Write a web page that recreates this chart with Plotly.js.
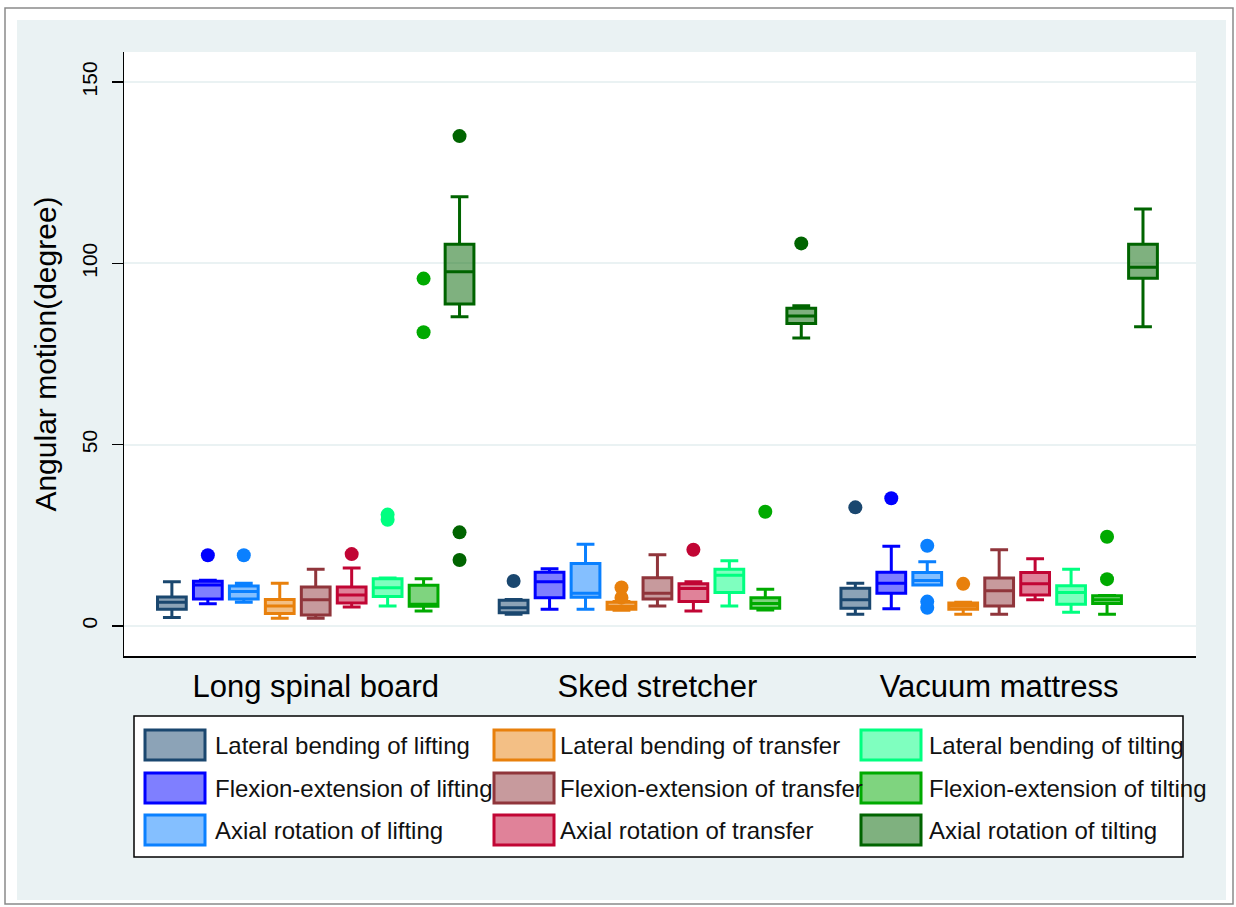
<!DOCTYPE html>
<html><head><meta charset="utf-8">
<script src="https://cdn.plot.ly/plotly-3.0.1.min.js"></script>
<style>html,body{margin:0;padding:0;background:#fff}</style>
</head><body><div id="chart" style="width:1236px;height:907px"></div>
<script>
var categories = ["Long spinal board", "Sked stretcher", "Vacuum mattress"];
var seriesNames = [
  "Lateral bending of lifting", "Flexion-extension of lifting", "Axial rotation of lifting",
  "Lateral bending of transfer", "Flexion-extension of transfer", "Axial rotation of transfer",
  "Lateral bending of tilting", "Flexion-extension of tilting", "Axial rotation of tilting"
];
var lineColors = ["#1a476f", "#0000ff", "#0a80ff", "#e8800c", "#90353b", "#c10534", "#00ff80", "#00aa00", "#006400"];
var fillColors = ["rgba(26,71,111,0.5)", "rgba(0,0,255,0.5)", "rgba(10,128,255,0.5)", "rgba(232,128,12,0.5)",
  "rgba(144,53,59,0.5)", "rgba(193,5,52,0.5)", "rgba(0,255,128,0.5)", "rgba(0,170,0,0.5)", "rgba(0,100,0,0.5)"];

// per series: [Long spinal board, Sked stretcher, Vacuum mattress]
var lowerFence = [[2.3,3.2,3.2],[6.1,4.6,4.7],[6.5,4.6,11.3],[2.1,4.3,3.2],[2.1,5.5,3.2],[5.2,4.1,7.2],[5.5,5.5,3.8],[4.1,4.4,3.2],[85.3,79.4,82.5]];
var q1Values   = [[4.6,3.6,4.9],[7.4,7.8,9.0],[7.4,7.9,11.3],[3.4,4.6,4.6],[3.0,7.4,5.5],[6.3,6.7,8.5],[8.1,9.2,6.0],[5.4,4.9,6.2],[88.8,83.4,95.9]];
var medians    = [[6.5,5.0,7.2],[11.3,12.2,11.8],[9.5,9.0,12.5],[5.5,5.4,5.5],[7.2,9.0,9.7],[8.5,10.3,11.6],[10.5,14.0,9.2],[6.0,6.2,7.2],[97.7,85.5,98.9]];
var q3Values   = [[8.0,7.1,10.4],[12.3,14.8,14.8],[11.0,17.2,14.7],[7.3,6.5,6.3],[10.7,13.3,13.2],[10.7,11.6,14.7],[13.0,15.6,11.1],[11.2,7.8,8.3],[105.3,87.6,105.3]];
var upperFence = [[12.2,7.3,11.8],[12.6,15.8,22.0],[11.8,22.5,17.7],[11.8,6.7,6.5],[15.6,19.6,21.0],[16.0,12.2,18.5],[13.2,18.0,15.6],[13.0,10.1,8.4],[118.4,88.3,115.0]];
var outliers = [
  [[], [12.4], [32.7]],
  [[19.5], [], [35.2]],
  [[19.5], [], [22.1, 6.7, 5.0]],
  [[], [7.8, 10.6], [11.6]],
  [[], [], []],
  [[19.8], [21.0], []],
  [[29.3, 30.7], [], []],
  [[81.0, 95.8], [31.5], [12.9, 24.6]],
  [[135.1, 25.8, 18.2], [105.5], []]
];
var yTickValues = [0, 50, 100, 150];

var traces = seriesNames.map(function (name, i) {
  // empty rows become [null] so plotly keeps the per-box 2D sample signature
  var pts = outliers[i].map(function (row) { return row.length ? row : [null]; });
  return {
    type: "box", name: name, x: categories,
    q1: q1Values[i], median: medians[i], q3: q3Values[i],
    lowerfence: lowerFence[i], upperfence: upperFence[i],
    y: pts, boxpoints: "outliers", pointpos: 0, jitter: 0,
    line: {color: lineColors[i], width: 3}, fillcolor: fillColors[i],
    marker: {color: lineColors[i], size: 14, line: {width: 0}},
    whiskerwidth: 0.62, showlegend: false, hoverinfo: "skip"
  };
});

// layout geometry (pixels)
var W = 1236, H = 907, L = 124, R = 1196, T = 52, B = 656;
function px(x) { return (x - L) / (R - L); }
function py(y) { return (B - y) / (B - T); }

var shapes = [
  {type: "rect", xref: "paper", yref: "paper", x0: px(5), x1: px(1233), y0: py(904), y1: py(8),
   line: {color: "#8a8a8a", width: 1.5}, fillcolor: "#ffffff", layer: "below"},
  {type: "rect", xref: "paper", yref: "paper", x0: px(17), x1: px(1226), y0: py(900), y1: py(20),
   line: {width: 0}, fillcolor: "#eaf2f3", layer: "below"},
  {type: "rect", xref: "paper", yref: "paper", x0: 0, x1: 1, y0: 0, y1: 1,
   line: {width: 0}, fillcolor: "#ffffff", layer: "below"},
  {type: "rect", xref: "paper", yref: "paper", x0: px(134), x1: px(1183), y0: py(857), y1: py(716),
   line: {color: "#000000", width: 1.5}, fillcolor: "#ffffff", layer: "below"}
];
var annotations = [];
var colSwatchX = [145, 494, 861];
var colTextX = [213, 558, 927];
var rowY = [745, 788, 830];
seriesNames.forEach(function (name, i) {
  var col = Math.floor(i / 3), row = i % 3;
  shapes.push({type: "rect", xref: "paper", yref: "paper",
    x0: px(colSwatchX[col]), x1: px(colSwatchX[col] + 60),
    y0: py(rowY[row] + 15), y1: py(rowY[row] - 15),
    line: {color: lineColors[i], width: 3}, fillcolor: fillColors[i]});
  annotations.push({xref: "paper", yref: "paper", x: px(colTextX[col]), y: py(rowY[row]),
    xanchor: "left", yanchor: "middle", showarrow: false, text: name,
    font: {size: 24, color: "#111111"}});
});

var layout = {
  width: W, height: H,
  margin: {l: L, r: W - R, t: T, b: H - B, pad: 0},
  paper_bgcolor: "#ffffff", plot_bgcolor: "#ffffff",
  font: {family: "Liberation Sans, Arial, sans-serif", color: "#000000"},
  boxmode: "group", boxgap: 0.053, boxgroupgap: 0.2,
  showlegend: false,
  xaxis: {
    type: "category", range: [-0.561, 2.576], showline: true, linecolor: "#000000", linewidth: 1.5,
    ticks: "", showgrid: false, zeroline: false, tickfont: {size: 31}, ticklabelstandoff: 2,
    fixedrange: true
  },
  yaxis: {
    range: [-8.3, 158.3], tickvals: yTickValues, ticktext: yTickValues.map(String),
    showline: true, linecolor: "#000000", linewidth: 1.5,
    ticks: "outside", ticklen: 11, tickwidth: 1.5, tickcolor: "#000000",
    tickangle: -90, tickfont: {size: 21}, ticklabelstandoff: 6,
    showgrid: true, gridcolor: "#eaf2f3", gridwidth: 2, zeroline: false,
    title: {text: "Angular motion(degree)", font: {size: 30}, standoff: 12},
    fixedrange: true
  },
  shapes: shapes, annotations: annotations
};
Plotly.newPlot("chart", traces, layout, {displayModeBar: false, staticPlot: true});
</script></body></html>
